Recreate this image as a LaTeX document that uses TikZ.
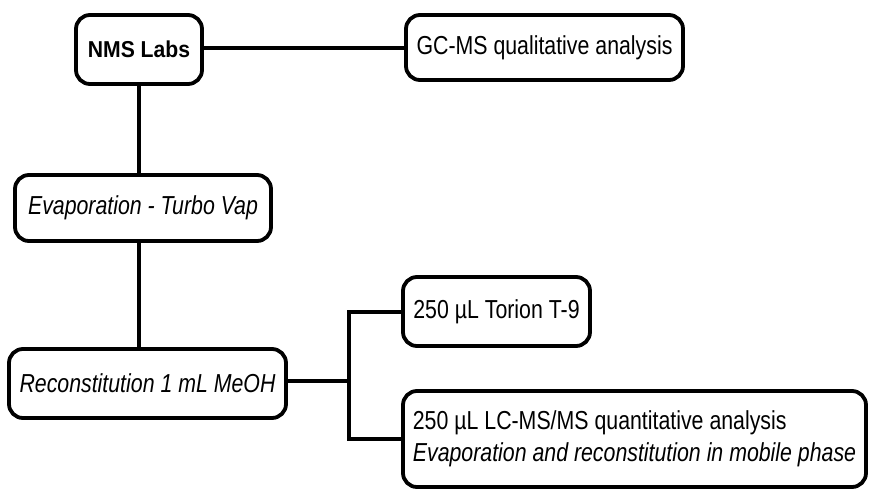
\documentclass[tikz,border=0pt]{standalone}
\usepackage{fontspec}
\setmainfont{Liberation Sans}
\newfontfamily\nfont{Liberation Sans}[FakeStretch=0.82]
\newfontfamily\bfont{Liberation Sans}[FakeStretch=0.92]
\begin{document}
\begin{tikzpicture}[x=1pt,y=-1pt]
\tikzset{
  box/.style={draw, line width=3.8pt, rounded corners=14pt, inner sep=0pt,
    font=\nfont\fontsize{26}{32}\selectfont},
  conn/.style={line width=4pt}
}
\useasboundingbox (0,0) rectangle (873,488);
\node[box, minimum width=126pt, minimum height=69pt, font=\bfont\bfseries\fontsize{23}{26}\selectfont] (NMS) at (139,49.5) {NMS Labs};
\node[box, minimum width=277pt, minimum height=65pt] (GC) at (544.5,47.5) {GC-MS qualitative analysis};
\node[box, minimum width=256pt, minimum height=66pt] (EV) at (143,208) {\itshape Evaporation - Turbo Vap};
\node[box, minimum width=277pt, minimum height=69pt] (RC) at (147.5,383.5) {\itshape Reconstitution 1 mL MeOH};
\node[box, minimum width=187pt, minimum height=69pt] (TO) at (496.5,311.5) {250 µL Torion T-9};
\node[box, minimum width=463pt, minimum height=96pt, align=left] (LC) at (634.5,439) {250 µL LC-MS/MS quantitative analysis\\\itshape Evaporation and reconstitution in mobile phase};
\coordinate (J) at (349,381);
\draw[conn] (NMS.east |- GC.west) -- (GC.west);
\draw[conn] (NMS.south) -- (NMS.south |- EV.north);
\draw[conn] (NMS.south |- EV.south) -- (NMS.south |- RC.north);
\draw[conn] (RC.east |- J) -- (J);
\draw[conn] (TO.west) -- (J |- TO.west) -- (J |- LC.west) -- (LC.west);
\end{tikzpicture}
\end{document}
